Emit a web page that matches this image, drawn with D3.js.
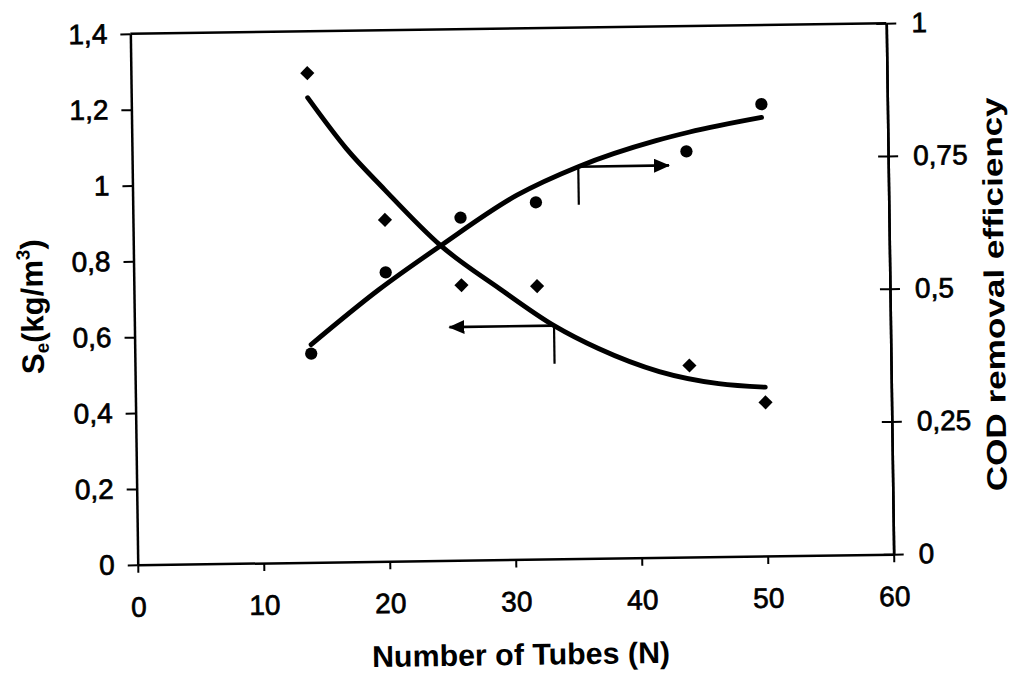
<!DOCTYPE html>
<html><head><meta charset="utf-8">
<script src="https://cdn.jsdelivr.net/npm/d3@7"></script>
<style>body{margin:0;background:#fff}</style>
</head><body>
<svg id="chart" width="1012" height="674"></svg>
<script>
// ---- data ----
const tubes = [14, 20, 26, 32, 44, 50];
const seValues = [1.29, 0.90, 0.725, 0.72, 0.505, 0.405];          // Se (kg/m3), left axis
const codValues = [0.393, 0.544, 0.645, 0.672, 0.764, 0.851];      // COD removal efficiency, right axis
const seFitTubes = [14, 17, 20, 24.4, 29, 33.3, 36.8, 41.6, 46.3, 50];
const seFitValues = [1.225, 1.09, 0.98, 0.83, 0.715, 0.615, 0.553, 0.49, 0.456, 0.445];
const codFitTubes = [14, 19.4, 24.4, 30.5, 35.4, 41.6, 44.2, 50];
const codFitValues = [0.41, 0.511, 0.593, 0.686, 0.738, 0.785, 0.80, 0.826];
const xTicks = [0, 10, 20, 30, 40, 50, 60];
const leftTicks = [0, 0.2, 0.4, 0.6, 0.8, 1, 1.2, 1.4];
const rightTicks = [0, 0.25, 0.5, 0.75, 1];
const seArrow = {from: 33.3, level: 0.615, to: 25};     // left-axis units
const codArrow = {from: 35.4, level: 0.738, to: 42.6};  // right-axis units

// ---- layout ----
const L = 134, R = 890, T = 28.5, B = 559.5;
const FONT = "'Liberation Sans', Arial, sans-serif";
const svg = d3.select('#chart');
const defs = svg.append('defs');
defs.append('marker').attr('id', 'ah')
  .attr('viewBox', '0 0 16 14').attr('refX', 15).attr('refY', 7)
  .attr('markerWidth', 16).attr('markerHeight', 14)
  .attr('markerUnits', 'userSpaceOnUse').attr('orient', 'auto')
  .append('path').attr('d', 'M0,0 L16,7 L0,14 Z').attr('fill', '#000');

const g = svg.append('g').attr('transform', 'rotate(-0.8 512 294)');

const x = d3.scaleLinear().domain([0, 60]).range([L, R]);
const yL = d3.scaleLinear().domain([0, 1.4]).range([B, T]);
const yR = d3.scaleLinear().domain([0, 1]).range([B, T]);
const comma = d => String(+d.toFixed(2)).replace('.', ',');

function styleAxis(sel) {
  sel.attr('font-size', 28).attr('font-family', FONT);
  sel.select('.domain').attr('stroke', '#000').attr('stroke-width', 2.5);
  sel.selectAll('.tick line').attr('stroke', '#000').attr('stroke-width', 2);
  sel.selectAll('.tick text').attr('fill', '#000').attr('stroke', '#000').attr('stroke-width', 0.7);
}

g.append('g').attr('transform', `translate(0,${B})`)
  .call(d3.axisBottom(x).tickValues(xTicks).tickSize(8).tickSizeOuter(0).tickPadding(24).tickFormat(d3.format('d')))
  .call(styleAxis);
g.append('g').attr('transform', `translate(${L},0)`)
  .call(d3.axisLeft(yL).tickValues(leftTicks).tickSize(10).tickSizeOuter(0).tickPadding(13).tickFormat(comma))
  .call(styleAxis);
g.append('g').attr('transform', `translate(${R},0)`)
  .call(d3.axisRight(yR).tickValues(rightTicks).tickSize(10).tickSizeOuter(0).tickPadding(15).tickFormat(comma))
  .call(styleAxis);
g.append('g').attr('transform', `translate(${R},0)`)
  .call(d3.axisLeft(yR).tickValues(rightTicks).tickSize(10).tickSizeOuter(0).tickFormat(''))
  .call(styleAxis);
// top frame line
g.append('line').attr('x1', x(0)).attr('x2', x(60)).attr('y1', yL(1.4)).attr('y2', yL(1.4))
  .attr('stroke', '#000').attr('stroke-width', 2.5);

// fitted curves
const seLine = d3.line().x((d, i) => x(seFitTubes[i])).y(d => yL(d)).curve(d3.curveMonotoneX);
const codLine = d3.line().x((d, i) => x(codFitTubes[i])).y(d => yR(d)).curve(d3.curveMonotoneX);
g.append('path').attr('d', seLine(seFitValues)).attr('fill', 'none').attr('stroke', '#000')
  .attr('stroke-width', 4.8).attr('stroke-linecap', 'round').attr('stroke-linejoin', 'round');
g.append('path').attr('d', codLine(codFitValues)).attr('fill', 'none').attr('stroke', '#000')
  .attr('stroke-width', 4.8).attr('stroke-linecap', 'round').attr('stroke-linejoin', 'round');

// markers
g.selectAll('.se').data(seValues).enter().append('path')
  .attr('d', d3.symbol(d3.symbolSquare, 100)())
  .attr('transform', (d, i) => `translate(${x(tubes[i])},${yL(d)}) rotate(45)`)
  .attr('fill', '#000');
g.selectAll('.cod').data(codValues).enter().append('path')
  .attr('d', d3.symbol(d3.symbolCircle, 118)())
  .attr('transform', (d, i) => `translate(${x(tubes[i])},${yR(d)})`)
  .attr('fill', '#000');

// arrow annotations
function arrow(a, yScale) {
  const x0 = x(a.from), y0 = yScale(a.level);
  g.append('line').attr('x1', x0).attr('x2', x0).attr('y1', y0).attr('y2', y0 + 38)
    .attr('stroke', '#000').attr('stroke-width', 2.2);
  g.append('line').attr('x1', x0).attr('x2', x(a.to)).attr('y1', y0).attr('y2', y0)
    .attr('stroke', '#000').attr('stroke-width', 2.6).attr('marker-end', 'url(#ah)');
}
arrow(seArrow, yL);
arrow(codArrow, yR);

// axis titles
g.append('text').attr('x', 516).attr('y', 665).attr('text-anchor', 'middle')
  .attr('font-family', FONT).attr('font-weight', 'bold').attr('font-size', 30)
  .attr('textLength', 298).attr('lengthAdjust', 'spacingAndGlyphs')
  .text('Number of Tubes (N)');
g.append('text').attr('transform', 'translate(1004,301) rotate(-90)').attr('text-anchor', 'middle')
  .attr('font-family', FONT).attr('font-weight', 'bold').attr('font-size', 28)
  .attr('textLength', 394).attr('lengthAdjust', 'spacingAndGlyphs')
  .text('COD removal efficiency');
const lt = g.append('text').attr('transform', 'translate(43,300) rotate(-90)').attr('text-anchor', 'middle')
  .attr('font-family', FONT).attr('font-weight', 'bold').attr('font-size', 31);
lt.append('tspan').text('S');
lt.append('tspan').attr('font-size', 19).attr('dy', 5).text('e');
lt.append('tspan').attr('dy', -5).text('(kg/m');
lt.append('tspan').attr('font-size', 19).attr('dy', -13).text('3');
lt.append('tspan').attr('dy', 13).text(')');
</script>
</body></html>
